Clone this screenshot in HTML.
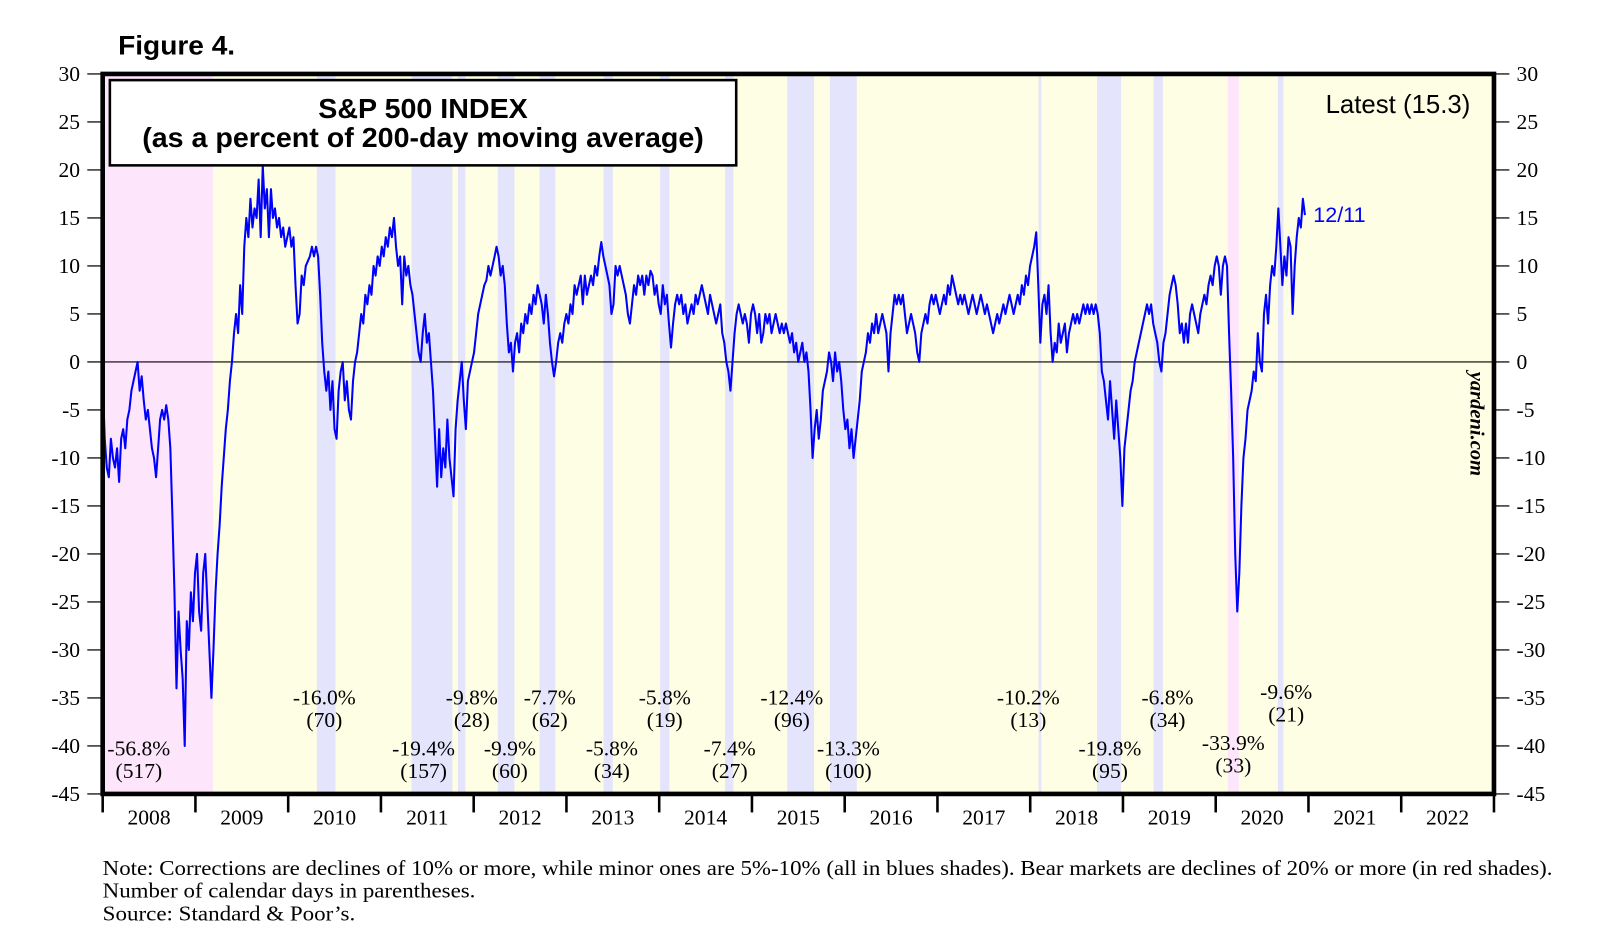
<!DOCTYPE html>
<html><head><meta charset="utf-8">
<style>
html,body{margin:0;padding:0;background:#fff;}
svg{display:block;}
.serif{font-family:"Liberation Serif",serif;}
.sans{font-family:"Liberation Sans",sans-serif;}
</style></head>
<body>
<svg id="chart" width="1610" height="948" viewBox="0 0 1568 923" preserveAspectRatio="none" xmlns="http://www.w3.org/2000/svg">
<text x="115" y="53" class="sans" font-size="26" font-weight="bold" textLength="114" lengthAdjust="spacingAndGlyphs">Figure 4.</text>
<g id="shades"></g>
<g id="grid"></g>
<g id="series"></g>
<rect x="100" y="72" width="1355" height="701" fill="none" stroke="#000" stroke-width="4.5"/>
<g>
<rect x="107" y="78" width="610" height="83" fill="#fff" stroke="#000" stroke-width="2.5"/>
<text x="412" y="115" text-anchor="middle" class="sans" font-size="27" font-weight="bold" textLength="204" lengthAdjust="spacingAndGlyphs">S&amp;P 500 INDEX</text>
<text x="412" y="143" text-anchor="middle" class="sans" font-size="27" font-weight="bold" textLength="547" lengthAdjust="spacingAndGlyphs">(as a percent of 200-day moving average)</text>
</g>
<text x="1432" y="110" text-anchor="end" class="sans" font-size="25" textLength="141" lengthAdjust="spacingAndGlyphs">Latest (15.3)</text>
<text x="1279" y="216" class="sans" font-size="21" fill="#0000ff">12/11</text>
<text transform="translate(1432,362) rotate(90)" class="serif" font-size="20" font-weight="bold" font-style="italic">yardeni.com</text>
<g id="annots" class="serif" font-size="21"></g>
<g class="serif" font-size="21">
<text x="100" y="852" textLength="1412" lengthAdjust="spacingAndGlyphs">Note: Corrections are declines of 10% or more, while minor ones are 5%-10% (all in blues shades). Bear markets are declines of 20% or more (in red shades).</text>
<text x="100" y="874" textLength="363" lengthAdjust="spacingAndGlyphs">Number of calendar days in parentheses.</text>
<text x="100" y="896" textLength="246" lengthAdjust="spacingAndGlyphs">Source: Standard &amp; Poor’s.</text>
</g>
</svg>
<script>
const startYear = 2008.0;
const stepYears = 0.02212;
const values = [-2,-8,-11,-12,-8,-10,-11,-9,-12.5,-8,-7,-9,-6,-5,-3,-2,-1,0,-3,-1.5,-4,-6,-5,-7,-9,-10,-12,-9,-6,-5,-6,-4.5,-6,-9,-16,-24,-34,
-26,-30,-33,-40,-27,-30,-24,-27,-22,-20,-26,-28,-22,-20,-25,-30,-35,-30,-24,-20,-17,-13,-10,-7,-5,-2,0,3,5,3,
8,5,12,15,13,17,14,16,15,19,13,20.5,16,18,13,18,15,16,14,15,13,14,12,13,14,12,13,8,4,5,9,8,10,10.5,
11,12,11,12,11,7,2,-1,-3,-1,-5,-2,-7,-8,-3,-1,0,-4,-2,-5,-6,-2,0,1,3,5,4,7,6,8,7,10,9,11,10,12,11,13,12,14,13,15,12,10,11,6,11,9,10,8,7,5,3,1,0,3,5,2,3,0,-3,-8,-13,-7,-12,-9,-11,-6,-10,-12,-14,-7,-4,-2,0,-4,-7,-2,-1,0,1,3,5,6,7,8,8.5,10,9,10,11,12,11,9,10,8,4,1,2,-1,2,3,1,4,3,5,4,6,5,7,6,8,7,6,4,7,5,2,0,-1.5,0,2,3,2,4,5,4,6,5,8,7,8,9,6,9,7,8,9,8,10,9,11,12.5,11,10,9,8,5,6,10,9,10,9,8,7,5,4,6,8,7,9,8,9,7,9,8,9.5,9,7,8,6,5,8,6,7,4,1.5,4,6,7,6,7,5,6,4,5,6,5,7,6,7,8,7,6,5,7,6,5,4,5,6,3,2,0,-1,-3,0,3,5,6,5,4,5,4,2,5,6,5,3,5,2,3,5,4,5,3,4,5,4,3,4,3,4,3,2,3,1,2,0,1,2,0,1,-1,-5,-10,-7,-5,-8,-6,-3,-2,-1,1,0,-2,1,-1,0,-2,-5,-7,-6,-9,-7,-10,-8,-6,-4,-1,0,1,3,2,4,3,5,3,4,5,4,3,-1,3,5,7,6,7,6,7,5,3,4,5,4,3,1,0,3,4,5,4,6,7,6,7,6,5,6,7,6,8,7,9,8,7,6,7,6,7,6,5,6,7,6,5,6,7,6,5,6,5,4,3,4,5,4,5,6,5,6,7,6,5,6,7,6,8,7,9,8,10,11,12,13.5,8,2,6,7,5,8,3,0,2,1,4,2,3,4,1,3,4,5,4,5,4,5,6,5,6,5,6,5,6,5,3,-1,-2,-4,-6,-2,-5,-8,-4,-7,-10,-15,-9,-7,-5,-3,-2,0,1,2,3,4,5,6,5,6,4,3,2,0,-1,2,3,5,7,8,9,8,6,3,4,2,4,2,5,6,5,4,3,5,6,7,6,8,9,8,10,11,10,7,10,11,10,3,-3,-10,-20,-26,-22,-15,-10,-8,-5,-4,-3,-1,-2,3,0,-1,5,7,4,8,10,9,12,16,12,8,11,9,13,12,5,10,13,15,14,17,15.3];
const yTicks = [30,25,20,15,10,5,0,-5,-10,-15,-20,-25,-30,-35,-40,-45];
const yearLabels = [2008,2009,2010,2011,2012,2013,2014,2015,2016,2017,2018,2019,2020,2021,2022];
const bearStarts = [2008.0, 2020.13];
const bearEnds = [2009.19, 2020.25];
const corrStarts = [2010.31, 2011.33, 2011.83, 2012.26, 2012.71, 2013.40, 2014.01, 2014.71, 2015.38, 2015.84, 2018.09, 2018.72, 2019.33, 2020.67];
const corrEnds = [2010.51, 2011.77, 2011.91, 2012.44, 2012.88, 2013.50, 2014.11, 2014.80, 2015.67, 2016.13, 2018.12, 2018.98, 2019.43, 2020.73];
const annotPct = ["-16.0%","-9.8%","-7.7%","-5.8%","-12.4%","-10.2%","-6.8%","-9.6%","-56.8%","-19.4%","-9.9%","-5.8%","-7.4%","-13.3%","-19.8%","-33.9%"];
const annotDays = ["(70)","(28)","(62)","(19)","(96)","(13)","(34)","(21)","(517)","(157)","(60)","(34)","(27)","(100)","(95)","(33)"];
const annotYear = [2010.39,2011.98,2012.82,2014.06,2015.43,2017.98,2019.48,2020.76,2008.39,2011.46,2012.39,2013.49,2014.76,2016.04,2018.86,2020.19];
const annotLevel = [-35.7,-35.7,-35.7,-35.7,-35.7,-35.7,-35.7,-35.1,-41.0,-41.0,-41.0,-41.0,-41.0,-41.0,-41.0,-40.4];

const NS = "http://www.w3.org/2000/svg";
const L=100,R=1455,T=72,B=773;
const xS = yr => L + (yr-2008)*(R-L)/15;
const yS = v => T + (30-v)*(B-T)/75;
function mk(tag, attrs, parent){const e=document.createElementNS(NS,tag);for(const k in attrs)e.setAttribute(k,attrs[k]);parent.appendChild(e);return e;}
const shades=document.getElementById('shades'), grid=document.getElementById('grid'), series=document.getElementById('series'), annots=document.getElementById('annots');
let bg = mk('rect',{x:L,y:T,width:R-L,height:B-T,fill:'#fefee4'},shades);


bearStarts.forEach((s,i)=>{
  const r=mk('rect',{x:xS(s),y:T,width:xS(bearEnds[i])-xS(s),height:B-T,fill:'#fde6fb'},shades);
  
  
});
corrStarts.forEach((s,i)=>{
  const r=mk('rect',{x:xS(s),y:T,width:xS(corrEnds[i])-xS(s),height:B-T,fill:'#e4e4fc'},shades);
  
  
});
const z=mk('line',{x1:L,x2:R,y1:yS(0),y2:yS(0),stroke:'#000','stroke-width':1.2},grid);


yTicks.forEach(v=>{
  const y=yS(v);
  mk('line',{x1:L-15,x2:L,y1:y,y2:y,stroke:'#000','stroke-width':1.2},grid);
  mk('line',{x1:R,x2:R+15,y1:y,y2:y,stroke:'#000','stroke-width':1.2},grid);
  const t1=mk('text',{x:L-22,y:y+7,'text-anchor':'end','font-size':21,class:'serif'},grid);t1.textContent=v;
  
  
  const t2=mk('text',{x:R+22,y:y+7,'font-size':21,class:'serif'},grid);t2.textContent=v;
  
  
});
for(let i=0;i<=yearLabels.length;i++){
  const x=xS(2008+i);
  mk('line',{x1:x,x2:x,y1:B,y2:B+18,stroke:'#000','stroke-width':2.5},grid);
}
yearLabels.forEach(yr=>{
  const t=mk('text',{x:xS(yr+0.5),y:B+30,'text-anchor':'middle','font-size':21,class:'serif'},grid);t.textContent=yr;
  
  
});
let d='';
values.forEach((v,i)=>{d+=(i?'L':'M')+xS(startYear+i*stepYears).toFixed(1)+','+yS(v).toFixed(1);});
const p=mk('path',{d:d,fill:'none',stroke:'#0000ff','stroke-width':2,'stroke-linejoin':'round'},series);


annotPct.forEach((s,i)=>{
  const x=xS(annotYear[i]), y=yS(annotLevel[i]);
  const a=mk('text',{x:x,y:y,'text-anchor':'middle'},annots);a.textContent=s;
  
  
  const b=mk('text',{x:x,y:y+22,'text-anchor':'middle'},annots);b.textContent=annotDays[i];
  
  
});
</script>
</body></html>
